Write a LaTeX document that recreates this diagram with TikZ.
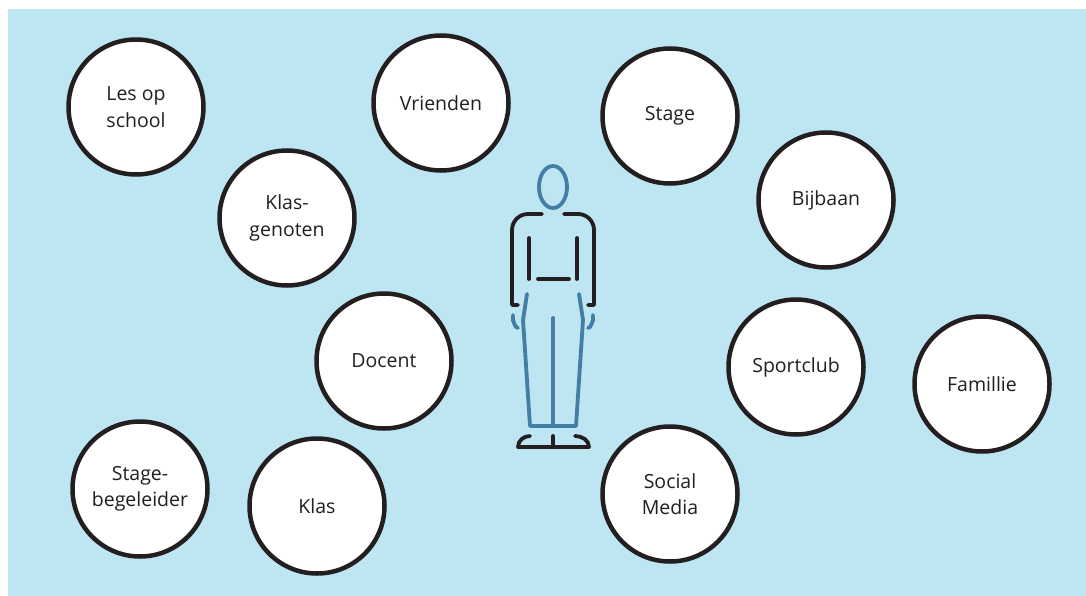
\documentclass[tikz,border=0pt]{standalone}
\usepackage{fontspec}
\setmainfont{Open Sans}
\usepackage{tikz}
\usetikzlibrary{calc, positioning}
\definecolor{bgblue}{HTML}{BDE5F2}
\definecolor{figblue}{HTML}{427EA5}
\definecolor{ink}{HTML}{231F20}
\tikzstyle{topic}=[inner sep=0pt, draw=ink, fill=white, shape=circle, line width=4.5pt, minimum size=135pt, align=center, text=ink, font=\fontsize{19.5}{26.5}\selectfont]
\tikzstyle{fig}=[line width=3.8pt, line cap=round, line join=round]
\tikzset{>=stealth}
\begin{document}
\begin{tikzpicture}[x=1pt, y=-1pt]
\useasboundingbox (0,0) rectangle (1086,596);
\fill[bgblue] (8,9) rectangle (1086,596);
\node[topic] (school) at (136,107) {Les op\\school};
\node[topic] (vrienden) at (441,103) {Vrienden};
\node[topic] (stage) at (670,116) {Stage};
\node[topic] (bijbaan) at (826,200) {Bijbaan};
\node[topic] (klasgenoten) at (287,218) {Klas-\\genoten};
\node[topic] (docent) at (384,361) {Docent};
\node[topic] (begeleider) at (140,489) {Stage-\\begeleider};
\node[topic] (klas) at (317,506) {Klas};
\node[topic] (social) at (670,494) {Social\\Media};
\node[topic] (sportclub) at (796,367) {Sportclub};
\node[topic] (familie) at (982,384) {Famillie};
% head
\draw[fig, figblue] (553,187) ellipse (14pt and 21pt);
% upper body
\draw[fig, ink] (542,214) -- (528,214) to[out=180, in=90] (512,230) -- (512,305) -- (518,305);
\draw[fig, ink] (564,214) -- (578,214) to[out=0, in=90] (594,230) -- (594,305) -- (588,305);
\draw[fig, ink] (529,238) -- (529,279);
\draw[fig, ink] (577,238) -- (577,279);
\draw[fig, ink] (538,279) -- (569,279);
% legs
\draw[fig, figblue] (527,294) -- (523,320) -- (530,426) -- (576,426) -- (583,320) -- (579,294);
\draw[fig, figblue] (553,318) -- (553,426);
% hands
\draw[fig, figblue] (513,315) -- (513,321) to[out=90, in=200] (518,328);
\draw[fig, figblue] (593,315) -- (593,321) to[out=90, in=-20] (588,328);
% feet
\draw[fig, ink] (530,436) to[out=180, in=90] (518,447) -- (589,447) to[in=0, out=90] (575,436);
\draw[fig, ink] (553,436) -- (553,447);
\end{tikzpicture}
\end{document}
